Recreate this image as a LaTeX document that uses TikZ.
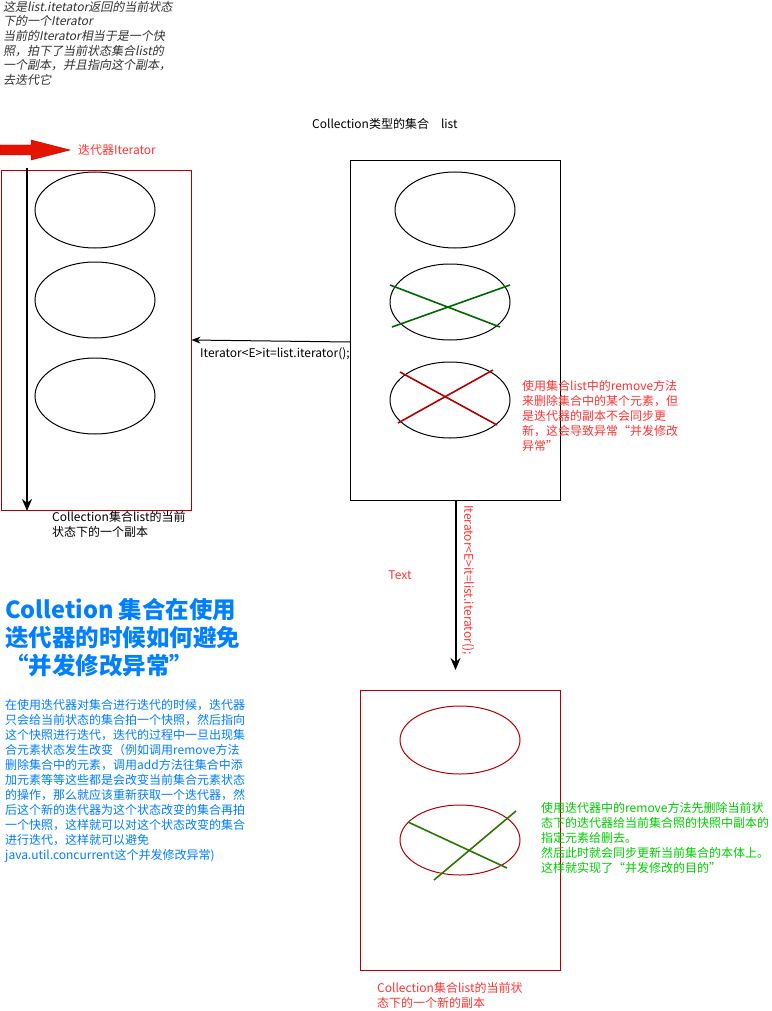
\documentclass[tikz,border=0pt]{standalone}
\usepackage{fontspec}
\setmainfont{Noto Sans CJK SC}
\newfontfamily\cjkit[FakeSlant=0.2]{Noto Sans CJK SC}
\usetikzlibrary{positioning,arrows.meta,shapes.geometric}
\definecolor{boxred}{RGB}{178,0,0}
\definecolor{txtred}{RGB}{255,51,51}
\definecolor{itblue}{RGB}{0,127,255}
\definecolor{okgreen}{RGB}{0,204,0}
\definecolor{xgreen}{RGB}{0,102,0}
\definecolor{xgreentwo}{RGB}{45,118,0}
\definecolor{arrowred}{RGB}{229,20,0}
\definecolor{notegray}{RGB}{51,51,51}
\tikzset{
  elem/.style={ellipse, draw, line width=1pt, minimum width=120pt, minimum height=76pt, inner sep=0pt},
  coll/.style={draw, line width=1pt, anchor=north west, inner sep=0pt},
  note/.style={anchor=north west, align=left, inner sep=0pt, font=\fontsize{12}{15}\selectfont},
  lbl/.style={anchor=west, inner sep=0pt, font=\fontsize{12}{15}\selectfont},
  ptr/.style={-{Stealth[length=12pt,width=10pt]}, line width=2pt},
  cross/.style={line width=1.6pt}
}

\begin{document}
\begin{tikzpicture}[x=1pt, y=-1pt]
  \useasboundingbox[fill=white] (0,0) rectangle (771,1011);
  % snapshot held by the iterator
  \node[coll, draw=boxred, minimum width=190pt, minimum height=340pt] (copybox) at (0.5,170) {};
  \node[elem] (c1) at (95,210) {};
  \node[elem] (c2) at (95,300) {};
  \node[elem] (c3) at (95,396) {};
  % the collection itself
  \node[coll, minimum width=210pt, minimum height=340pt] (listbox) at (350,160) {};
  \node[elem] (l1) at (455,210) {};
  \node[elem] (l2) at (450,302) {};
  \node[elem] (l3) at (450,400) {};
  \draw[cross, xgreen] (390,285) -- (500,327);
  \draw[cross, xgreen] (392,327) -- (510,285);
  \draw[cross, boxred] (400,372) -- (497,425);
  \draw[cross, boxred] (398,423) -- (493,370);
  % new snapshot
  \node[coll, draw=boxred, minimum width=200pt, minimum height=280pt] (newbox) at (360,690) {};
  \node[elem, draw=boxred, minimum height=68pt] (n1) at (460,740) {};
  \node[elem, draw=boxred, minimum height=70pt] (n2) at (460,840) {};
  \draw[cross, xgreentwo] (408,822) -- (507,868);
  \draw[cross, xgreentwo] (434,880) -- (516,811);
  % iterator
  \draw[draw=boxred, fill=arrowred] (0,145) -- (31,145) -- (31,140) -- (70,150) -- (31,160) -- (31,155) -- (0,155) -- cycle;
  \node[lbl, text=txtred] (itlbl) at (78,150) {迭代器Iterator};
  \coordinate (itstart) at (27,168);
  \draw[ptr] (itstart) -- (itstart |- copybox.south);
  \draw[ptr, -{Stealth[length=9pt,width=7pt]}, line width=1pt] (listbox.west |- 0,342) -- (copybox.east |- 0,340);
  \node[lbl] (itcall) at (200,354) {Iterator<E>it=list.iterator();};
  \draw[ptr] (listbox.south) -- (listbox.south |- 0,670);
  \node[lbl, rotate=-90, text=txtred] (itcall2) at (468,505) {Iterator<E>it=list.iterator();};
  \node[text=txtred, inner sep=0pt, font=\fontsize{12}{15}\selectfont] (txt) at (400,575) {Text};
  % labels
  \node[note, text=notegray, font=\fontsize{12}{14.6}\selectfont\cjkit] (itnote) at (3,1)
    {这是list.itetator返回的当前状态\\下的一个Iterator\\当前的Iterator相当于是一个快\\照，拍下了当前状态集合list的\\一个副本，并且指向这个副本，\\去迭代它};
  \node[lbl] (listlbl) at (312,124) {Collection类型的集合\hspace{12pt}list};
  \node[note, text=txtred] (rmnote) at (522,380)
    {使用集合list中的remove方法\\来删除集合中的某个元素，但\\是迭代器的副本不会同步更\\新，这会导致异常“并发修改\\异常”};
  \node[note] (copylbl) at (52,511) {Collection集合list的当前\\状态下的一个副本};
  \node[note, text=itblue, font=\fontsize{23.5}{28}\selectfont\bfseries] (title) at (5,598)
    {Colletion 集合在使用\\迭代器的时候如何避免\\“并发修改异常”};
  \node[note, text=itblue] (para) at (5,699)
    {在使用迭代器对集合进行迭代的时候，迭代器\\只会给当前状态的集合拍一个快照，然后指向\\这个快照进行迭代，迭代的过程中一旦出现集\\合元素状态发生改变（例如调用remove方法\\删除集合中的元素，调用add方法往集合中添\\加元素等等这些都是会改变当前集合元素状态\\的操作，那么就应该重新获取一个迭代器，然\\后这个新的迭代器为这个状态改变的集合再拍\\一个快照，这样就可以对这个状态改变的集合\\进行迭代，这样就可以避免\\java.util.concurrent这个并发修改异常)};
  \node[note, text=okgreen] (okno) at (541,802)
    {使用迭代器中的remove方法先删除当前状\\态下的迭代器给当前集合照的快照中副本的\\指定元素给删去。\\然后此时就会同步更新当前集合的本体上。\\这样就实现了“并发修改的目的”};
  \node[note, text=txtred] (newlbl) at (377,982) {Collection集合list的当前状\\态下的一个新的副本};
\end{tikzpicture}
\end{document}
